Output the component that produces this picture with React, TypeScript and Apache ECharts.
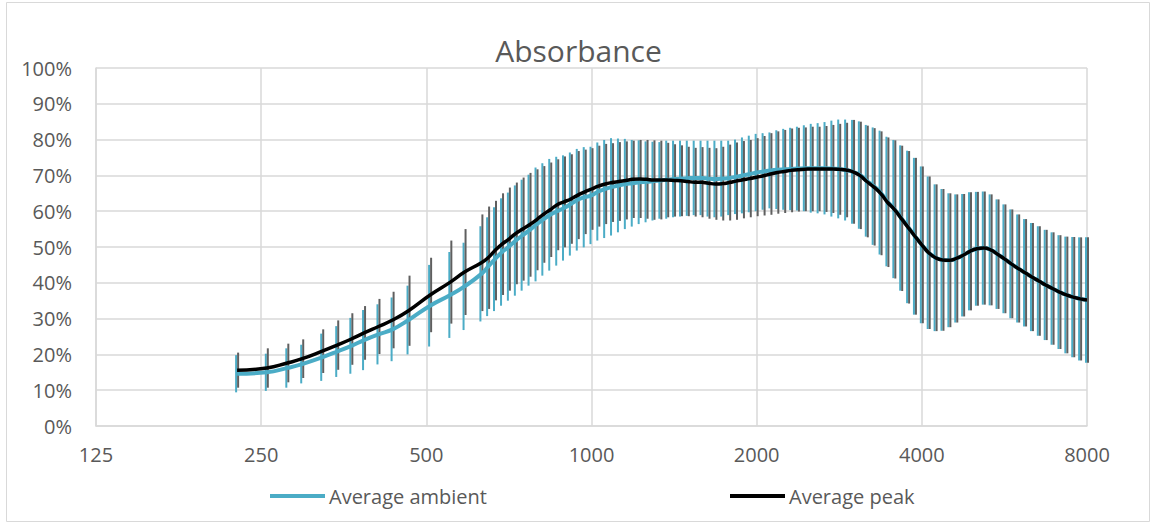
import React, { useEffect, useRef } from "react";
import * as echarts from "echarts";

const title = "Absorbance";
const xTickLabels = ["125", "250", "500", "1000", "2000", "4000", "8000"];
const seriesNames = ["Average ambient", "Average peak"];

// Frequencies (Hz) of the measured points
const frequencies = [
  226, 256, 279, 297, 323, 344, 365, 385, 409, 434, 464, 508, 553, 587,
  630, 648, 667, 687, 707, 728, 749, 771, 794, 817, 841, 866, 891, 917, 944, 972,
  1000, 1029, 1059, 1090, 1122, 1155, 1189, 1224, 1260, 1297, 1335, 1374, 1414, 1456, 1498, 1542,
  1587, 1634, 1682, 1731, 1782, 1834, 1888, 1943,
  2000, 2059, 2119, 2181, 2245, 2311, 2378, 2448, 2520, 2594, 2670, 2748, 2828, 2911, 2997, 3084,
  3175, 3268, 3364, 3462, 3564, 3668, 3776, 3886,
  4000, 4117, 4238, 4362, 4490, 4622, 4757, 4896, 5040, 5188, 5339, 5496, 5657, 5823, 5993, 6169,
  6350, 6536, 6727, 6924, 7127, 7336, 7551, 7772, 8000,
];

// Average peak absorbance (%)
const peak = [
  15.6, 16.2, 17.6, 18.8, 20.9, 22.6, 24.3, 26.0, 27.8, 29.6, 32.2, 36.6, 40.2, 43.0,
  45.6, 47.0, 49.0, 50.8, 52.2, 53.8, 55.0, 56.2, 57.6, 59.1, 60.4, 61.8, 62.6, 63.4, 64.5, 65.4,
  66.2, 67.0, 67.6, 68.0, 68.3, 68.6, 68.9, 69.0, 68.9, 68.7, 68.7, 68.7, 68.6, 68.5, 68.3, 68.1,
  68.1, 67.8, 67.6, 67.7, 68.0, 68.4, 68.8, 69.1,
  69.5, 69.9, 70.4, 70.8, 71.1, 71.4, 71.6, 71.7, 71.8, 71.8, 71.8, 71.8, 71.7, 71.5, 71.0, 70.0,
  68.3, 66.8, 65.0, 62.5, 60.5, 58.0, 55.5, 53.0,
  50.6, 48.4, 47.0, 46.4, 46.3, 46.8, 47.7, 48.8, 49.5, 49.7, 49.2, 48.0, 46.7, 45.3, 44.0, 42.8,
  41.6, 40.5, 39.4, 38.4, 37.4, 36.6, 36.0, 35.5, 35.2,
];

// Average ambient absorbance (%)
const ambient = [
  14.6, 15.0, 16.2, 17.3, 19.2, 20.8, 22.4, 24.0, 25.6, 27.0, 29.6, 33.6, 36.6, 39.0,
  42.5, 44.5, 46.6, 48.6, 50.1, 51.8, 53.3, 54.7, 56.3, 57.7, 59.0, 60.0, 60.9, 62.0, 63.2, 63.9,
  64.4, 65.5, 66.2, 66.8, 67.2, 67.6, 67.8, 68.1, 68.2, 68.4, 68.6, 68.8, 69.0, 69.1, 69.2, 69.3,
  69.3, 69.1, 69.0, 69.1, 69.3, 69.6, 70.0, 70.4,
  70.8, 71.1, 71.4, 71.6, 71.7, 71.8, 71.9, 72.0, 72.0, 72.0, 72.0, 71.9, 71.8, 71.5, 71.0, 70.1,
  68.5, 67.0, 65.2, 62.7, 60.6, 58.1, 55.6, 53.0,
  50.6, 48.4, 47.0, 46.4, 46.3, 46.8, 47.7, 48.8, 49.5, 49.7, 49.2, 48.0, 46.7, 45.3, 44.0, 42.8,
  41.6, 40.5, 39.4, 38.4, 37.4, 36.6, 36.0, 35.5, 35.2,
];

// Standard deviations (error bar half-lengths, %)
const peakSd = [
  4.9, 5.5, 5.4, 5.4, 6.1, 6.9, 7.2, 7.5, 7.7, 7.9, 9.8, 10.4, 11.6, 12.0,
  13.5, 14.3, 13.9, 14.2, 14.4, 14.2, 14.4, 14.5, 14.1, 13.5, 13.2, 12.7, 12.7, 12.5, 12.3, 11.8,
  11.4, 11.3, 11.2, 11.0, 11.0, 10.9, 10.8, 10.9, 11.0, 11.1, 11.0, 10.4, 10.1, 9.9, 9.7, 9.6,
  9.8, 9.9, 10.0, 10.3, 10.6, 10.8, 10.8, 10.8,
  10.9, 11.1, 11.4, 11.5, 11.6, 11.7, 11.7, 11.7, 11.8, 11.8, 12.0, 12.3, 12.7, 13.2, 14.5, 15.0,
  15.6, 16.4, 17.3, 18.1, 19.3, 20.3, 21.3, 21.9,
  21.9, 21.3, 20.5, 19.8, 18.7, 17.9, 17.1, 16.5, 15.9, 15.8, 15.5, 15.3, 15.2, 15.2, 15.1, 15.0,
  15.1, 15.3, 15.4, 15.7, 15.9, 16.3, 16.8, 17.2, 17.5,
];

const ambientSd = [
  5.2, 5.2, 5.5, 5.4, 6.6, 7.1, 7.8, 8.4, 8.4, 8.9, 9.6, 11.4, 12.0, 12.2,
  13.3, 13.8, 14.5, 15.0, 15.1, 15.4, 15.5, 15.5, 15.9, 15.7, 15.6, 15.2, 14.7, 14.4, 14.2, 14.0,
  13.6, 13.7, 13.7, 13.6, 13.1, 12.6, 12.1, 11.7, 11.3, 11.0, 10.7, 10.9, 10.7, 10.6, 10.5, 10.4,
  10.4, 10.6, 10.7, 10.6, 10.4, 10.4, 10.6, 10.7,
  10.8, 10.7, 10.6, 11.0, 11.3, 11.5, 11.7, 12.0, 12.4, 12.6, 12.9, 13.4, 13.8, 14.1, 14.5, 15.0,
  15.6, 16.4, 17.3, 18.1, 19.3, 20.3, 21.3, 21.9,
  21.9, 21.3, 20.5, 19.8, 18.7, 17.9, 17.1, 16.5, 15.9, 15.8, 15.5, 15.3, 15.2, 15.2, 15.1, 15.0,
  15.1, 15.3, 15.4, 15.7, 15.9, 16.3, 16.8, 17.2, 17.5,
];

const BASE_FREQ = 125;
const TEAL = "#4bacc6";
const BLACK = "#000000";
const BAR_GRAY = "#5f5f5f";
const TEXT = "#595959";
const GRID = "#d9d9d9";
const FONT = "'Open Sans', sans-serif";

const octave = (f: number) => Math.log2(f / BASE_FREQ);

function errorBars(values: number[], sds: number[], color: string, dx: number, name: string) {
  return {
    type: "custom",
    name,
    coordinateSystem: "cartesian2d",
    silent: true,
    z: 1,
    encode: { x: 0, y: [1, 2] },
    data: frequencies.map((f, i) => [octave(f), values[i] - sds[i], values[i] + sds[i]]),
    renderItem: (_params: any, api: any) => {
      const x = api.value(0);
      const lo = api.coord([x, api.value(1)]);
      const hi = api.coord([x, api.value(2)]);
      return {
        type: "line",
        shape: { x1: lo[0] + dx, y1: lo[1], x2: hi[0] + dx, y2: hi[1] },
        style: { stroke: color, lineWidth: 2 },
      };
    },
  };
}

export default function App() {
  const ref = useRef<HTMLDivElement>(null);

  useEffect(() => {
    if (!ref.current) return;
    const chart = echarts.init(ref.current, undefined, { renderer: "svg" });
    chart.setOption({
      animation: false,
      backgroundColor: "#ffffff",
      title: {
        text: title,
        left: "center",
        top: 30,
        textStyle: { fontFamily: FONT, fontSize: 30, fontWeight: "normal", color: TEXT },
      },
      graphic: [
        {
          type: "rect",
          shape: { x: 6.5, y: 2.5, width: 1143, height: 519 },
          style: { fill: "none", stroke: GRID, lineWidth: 1 },
          silent: true,
          z: -10,
        },
      ],
      legend: [
        {
          data: [seriesNames[0]],
          left: 265,
          top: 481,
          icon: "rect",
          itemWidth: 55,
          itemHeight: 4,
          itemGap: 4,
          textStyle: { fontFamily: FONT, fontSize: 20, color: TEXT, padding: [0, 0, 0, -1] },
        },
        {
          data: [seriesNames[1]],
          left: 725,
          top: 481,
          icon: "rect",
          itemWidth: 55,
          itemHeight: 4,
          itemGap: 4,
          textStyle: { fontFamily: FONT, fontSize: 20, color: TEXT, padding: [0, 0, 0, -1] },
        },
      ],
      grid: { left: 96, right: 70, top: 68, bottom: 100 },
      xAxis: {
        type: "value",
        min: 0,
        max: xTickLabels.length - 1,
        interval: 1,
        axisLine: { show: true, lineStyle: { color: GRID, width: 1.5 } },
        axisTick: { show: false },
        splitLine: { show: true, lineStyle: { color: GRID, width: 1.5 } },
        axisLabel: {
          margin: 18,
          fontFamily: FONT,
          fontSize: 20,
          color: TEXT,
          formatter: (v: number) => xTickLabels[Math.round(v)] ?? "",
        },
      },
      yAxis: {
        type: "value",
        min: 0,
        max: 100,
        interval: 10,
        axisLine: { show: true, lineStyle: { color: GRID, width: 1.5 } },
        axisTick: { show: false },
        splitLine: { show: true, lineStyle: { color: GRID, width: 1.5 } },
        axisLabel: {
          margin: 24,
          fontFamily: FONT,
          fontSize: 20,
          color: TEXT,
          formatter: "{value}%",
        },
      },
      series: [
        errorBars(ambient, ambientSd, TEAL, -1, "ambientErr"),
        errorBars(peak, peakSd, BAR_GRAY, 1, "peakErr"),
        {
          type: "line",
          name: seriesNames[0],
          data: frequencies.map((f, i) => [octave(f), ambient[i]]),
          showSymbol: false,
          smooth: true,
          z: 3,
          lineStyle: { color: TEAL, width: 4 },
          itemStyle: { color: TEAL },
        },
        {
          type: "line",
          name: seriesNames[1],
          data: frequencies.map((f, i) => [octave(f), peak[i]]),
          showSymbol: false,
          smooth: true,
          z: 4,
          lineStyle: { color: BLACK, width: 3.5 },
          itemStyle: { color: BLACK },
        },
      ],
    });
    return () => chart.dispose();
  }, []);

  return (
    <div
      ref={ref}
      style={{ position: "fixed", left: 0, top: 0, width: 1157, height: 526, background: "#fff" }}
    />
  );
}
